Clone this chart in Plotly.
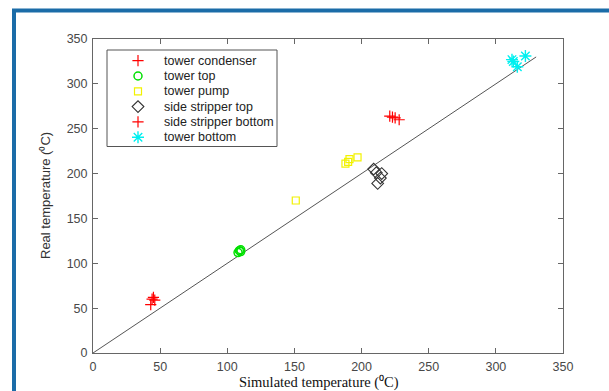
import plotly.graph_objects as go

# ---- data ----
series_names = ["tower condenser", "tower top", "tower pump",
                "side stripper top", "side stripper bottom", "tower bottom"]

cond_x = [44, 45, 43, 46]
cond_y = [60, 62, 54, 59]

top_x = [108, 109, 110, 110]
top_y = [112, 114, 113, 115]

pump_x = [151, 188, 190, 191, 197]
pump_y = [170, 211, 213, 216, 218]

sst_x = [209, 211, 215, 214, 212]
sst_y = [205, 201, 200, 195, 189]

ssb_x = [221, 223, 225, 228]
ssb_y = [264, 263, 262, 260]

bot_x = [312, 322, 316, 313]
bot_y = [327, 331, 319, 325]

diag_x = [0, 330]
diag_y = [0, 330]

x_ticks = [0, 50, 100, 150, 200, 250, 300, 350]
y_ticks = [0, 50, 100, 150, 200, 250, 300, 350]

x_title = "Simulated temperature (⁰C)"
y_title = "Real temperature (⁰C)"

styles = [
    dict(symbol="cross-thin", size=8, color="red", line=dict(color="red", width=1.2)),
    dict(symbol="circle-open", size=8, color="#00e000", line=dict(color="#00e000", width=1.5)),
    dict(symbol="square-open", size=7, color="#f2f200", line=dict(color="#f2f200", width=1.2)),
    dict(symbol="diamond-open", size=9, color="#333333", line=dict(color="#333333", width=1.1)),
    dict(symbol="cross-thin", size=8, color="red", line=dict(color="red", width=1.2)),
    dict(symbol="asterisk-open", size=10, color="#00f0f0", line=dict(color="#00f0f0", width=1.4)),
]
data_xy = [(cond_x, cond_y), (top_x, top_y), (pump_x, pump_y),
           (sst_x, sst_y), (ssb_x, ssb_y), (bot_x, bot_y)]

fig = go.Figure()
fig.add_trace(go.Scatter(x=diag_x, y=diag_y, mode="lines",
                         line=dict(color="#555555", width=1), showlegend=False,
                         hoverinfo="skip"))
for (xs, ys), st, nm in zip(data_xy, styles, series_names):
    fig.add_trace(go.Scatter(x=xs, y=ys, mode="markers", marker=st, name=nm,
                             showlegend=False))

# ---- custom legend on an auxiliary axis pair ----
row0, row_step = 10.7, 15.3
for i, (st, nm) in enumerate(zip(styles, series_names)):
    fig.add_trace(go.Scatter(x=[31], y=[row0 + row_step * i], mode="markers",
                             marker=st, xaxis="x2", yaxis="y2", showlegend=False,
                             hoverinfo="skip"))
    fig.add_annotation(x=55, y=row0 + row_step * i, xref="x2", yref="y2",
                       text=nm, showarrow=False, xanchor="left", yanchor="middle",
                       font=dict(family="Liberation Sans, Arial", size=12.5, color="#222222"))

L, R, T, B = 93, 46, 39, 38
W, H = 609, 391
pw, ph = W - L - R, H - T - B

def px_x(p):
    return (p - L) / pw

def px_y(p):
    return (H - B - p) / ph

lx0, lx1 = px_x(107), px_x(277)
ly0, ly1 = px_y(146.5), px_y(50)

# axis titles
fig.add_annotation(x=px_x(319), y=px_y(382.5), xref="paper", yref="paper", text=x_title,
                   showarrow=False, xanchor="center", yanchor="middle",
                   font=dict(family="Liberation Serif, Times New Roman", size=14.5,
                             color="#111111"))
fig.add_annotation(x=px_x(45), y=0.5, xref="paper", yref="paper", text=y_title,
                   showarrow=False, xanchor="center", yanchor="middle", textangle=-90,
                   font=dict(family="Liberation Sans Narrow, Liberation Sans, Arial",
                             size=13, color="#333333"))

axis_common = dict(showline=True, linecolor="#666666", linewidth=1, mirror="ticks",
                   ticks="inside", ticklen=5, tickcolor="#666666", showgrid=False,
                   zeroline=False,
                   tickfont=dict(family="Liberation Sans, Arial", size=12.5, color="#484848"))

fig.update_layout(
    width=W, height=H,
    margin=dict(l=L, r=R, t=T, b=B),
    paper_bgcolor="white", plot_bgcolor="white",
    showlegend=False,
    xaxis=dict(range=[0, 350], tickvals=x_ticks, ticklabelstandoff=2, **axis_common),
    yaxis=dict(range=[0, 350], tickvals=y_ticks, ticklabelstandoff=2, **axis_common),
    xaxis2=dict(domain=[lx0, lx1], range=[0, 170], anchor="y2", visible=False,
                fixedrange=True),
    yaxis2=dict(domain=[ly0, ly1], range=[96.5, 0], anchor="x2", visible=False,
                fixedrange=True),
    shapes=[
        dict(type="rect", xref="paper", yref="paper", x0=lx0, x1=lx1, y0=ly0, y1=ly1,
             line=dict(color="#555555", width=1), fillcolor="rgba(0,0,0,0)"),
        dict(type="rect", xref="paper", yref="paper", x0=px_x(14), x1=1.3,
             y0=-0.3, y1=px_y(10.5),
             line=dict(color="#1b6ca8", width=4), fillcolor="rgba(0,0,0,0)"),
    ],
)

fig.write_html("out.html")
